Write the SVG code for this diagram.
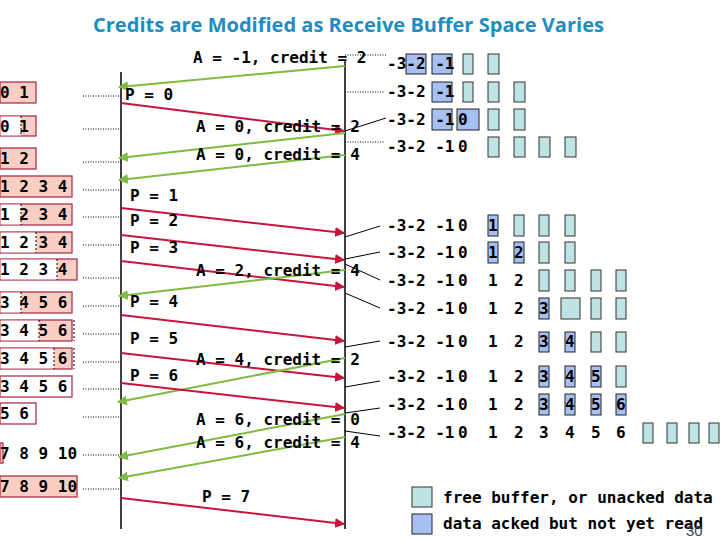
<svg xmlns="http://www.w3.org/2000/svg" width="720" height="540" viewBox="0 0 720 540">
<style>
.t{font-family:"DejaVu Sans Mono","Liberation Mono",monospace;font-weight:bold;font-size:16px;fill:#000}
.title{font-family:"Open Sans","Liberation Sans",sans-serif;font-weight:bold;font-size:20px;fill:#1F8DC0}
.pk{fill:#F9CFC4;stroke:#B0304E;stroke-width:1.3}
.wt{fill:#fff;stroke:#B0304E;stroke-width:1.3}
.split{stroke:#000;stroke-width:1;stroke-dasharray:2,2}
.blue{fill:#A6C0F4;stroke:#222;stroke-width:1}
.cyan{fill:#BFE2E2;stroke:#333;stroke-width:1}
.dot{stroke:#000;stroke-width:1;stroke-dasharray:1,1.5}
.thin{stroke:#000;stroke-width:1}
.ack{stroke:#7DBB42;stroke-width:2;fill:none;marker-end:url(#ag)}
.dat{stroke:#C8143C;stroke-width:2;fill:none;marker-end:url(#ar)}
.axis{stroke:#000;stroke-width:1.5}
</style>
<defs>
<marker id="ag" viewBox="0 0 10 10" refX="9" refY="5" markerWidth="5" markerHeight="5" orient="auto" markerUnits="strokeWidth"><path d="M0,0 L10,5 L0,10 z" fill="#7DBB42"/></marker>
<marker id="ar" viewBox="0 0 10 10" refX="9" refY="5" markerWidth="5" markerHeight="5" orient="auto" markerUnits="strokeWidth"><path d="M0,0 L10,5 L0,10 z" fill="#C8143C"/></marker>
</defs>
<rect width="720" height="540" fill="#fff"/>
<text class="title" x="93" y="32" textLength="511" lengthAdjust="spacingAndGlyphs">Credits are Modified as Receive Buffer Space Varies</text>

<g id="axes">
<line class="axis" x1="121" y1="72" x2="121" y2="529"/>
<line class="axis" x1="345" y1="60" x2="345" y2="529"/>
</g>

<g id="sender-buffers">
<g id="s1"><rect class="pk" x="0" y="82" width="36" height="21"/><text class="t" x="0" y="98">0 1</text></g>
<g id="s2"><rect class="pk" x="0" y="116" width="36" height="20"/><rect x="0.6" y="116.6" width="20.4" height="18.8" fill="#fff"/><line class="split" x1="21" y1="116" x2="21" y2="136"/><text class="t" x="0" y="132">0 1</text></g>
<g id="s3"><rect class="pk" x="0" y="148" width="36" height="21"/><text class="t" x="0" y="164">1 2</text></g>
<g id="s4"><rect class="pk" x="0" y="176" width="72" height="21"/><text class="t" x="0" y="192">1 2 3 4</text></g>
<g id="s5"><rect class="pk" x="0" y="204" width="72" height="21"/><rect x="0.6" y="204.6" width="20.4" height="19.8" fill="#fff"/><line class="split" x1="21" y1="204" x2="21" y2="225"/><text class="t" x="0" y="220">1 2 3 4</text></g>
<g id="s6"><rect class="pk" x="0" y="232" width="72" height="21"/><rect x="0.6" y="232.6" width="35.4" height="19.8" fill="#fff"/><line class="split" x1="36" y1="232" x2="36" y2="253"/><text class="t" x="0" y="248">1 2 3 4</text></g>
<g id="s7"><rect class="pk" x="0" y="259" width="77" height="21"/><rect x="0.6" y="259.6" width="56.4" height="19.8" fill="#fff"/><line class="split" x1="57" y1="259" x2="57" y2="280"/><text class="t" x="0" y="275">1 2 3 4</text></g>
<g id="s8"><rect class="pk" x="0" y="292" width="72" height="21"/><rect x="0.6" y="292.6" width="20.4" height="19.8" fill="#fff"/><line class="split" x1="21" y1="292" x2="21" y2="313"/><text class="t" x="0" y="308">3 4 5 6</text></g>
<g id="s9"><rect class="pk" x="0" y="320" width="72" height="21"/><rect x="0.6" y="320.6" width="38.4" height="19.8" fill="#fff"/><line class="split" x1="39" y1="320" x2="39" y2="341"/><line class="split" x1="74" y1="320" x2="74" y2="341"/><text class="t" x="0" y="336">3 4 5 6</text></g>
<g id="s10"><rect class="pk" x="0" y="348" width="72" height="21"/><rect x="0.6" y="348.6" width="53.4" height="19.8" fill="#fff"/><line class="split" x1="54" y1="348" x2="54" y2="369"/><line class="split" x1="74" y1="348" x2="74" y2="369"/><text class="t" x="0" y="364">3 4 5 6</text></g>
<g id="s11"><rect class="wt" x="0" y="376" width="72" height="21"/><text class="t" x="0" y="392">3 4 5 6</text></g>
<g id="s12"><rect class="wt" x="0" y="403" width="36" height="21"/><text class="t" x="0" y="419">5 6</text></g>
<g id="s13"><rect class="pk" x="0" y="443" width="3" height="20"/><text class="t" x="0" y="459">7 8 9 10</text></g>
<g id="s14"><rect class="pk" x="0" y="476" width="77" height="21"/><text class="t" x="0" y="492">7 8 9 10</text></g>
</g>

<g id="receiver-buffers">
<g id="r1"><rect class="blue" x="406" y="54" width="20" height="20"/><rect class="blue" x="432" y="54" width="20" height="20"/><rect class="cyan" x="463" y="54" width="10" height="20"/><rect class="cyan" x="488" y="54" width="11" height="20"/><text class="t" x="387" y="69">-3-2 -1</text></g>
<g id="r2"><rect class="blue" x="432" y="82" width="20" height="20"/><rect class="cyan" x="463" y="82" width="10" height="20"/><rect class="cyan" x="488" y="82" width="11" height="20"/><rect class="cyan" x="514" y="82" width="11" height="20"/><text class="t" x="387" y="97">-3-2 -1</text></g>
<g id="r3"><rect class="blue" x="432" y="109" width="20" height="21"/><rect class="blue" x="457" y="109" width="22" height="21"/><rect class="cyan" x="488" y="109" width="11" height="21"/><rect class="cyan" x="514" y="109" width="11" height="21"/><text class="t" x="387" y="125">-3-2 -1</text><text class="t" x="458" y="125">0</text></g>
<g id="r4"><rect class="cyan" x="488" y="137" width="11" height="20"/><rect class="cyan" x="514" y="137" width="11" height="20"/><rect class="cyan" x="539" y="137" width="11" height="20"/><rect class="cyan" x="565" y="137" width="11" height="20"/><text class="t" x="387" y="152">-3-2 -1</text><text class="t" x="458" y="152">0</text></g>
<g id="r5"><rect class="blue" x="488" y="215" width="10" height="21"/><rect class="cyan" x="514" y="215" width="10" height="21"/><rect class="cyan" x="539" y="215" width="10" height="21"/><rect class="cyan" x="565" y="215" width="10" height="21"/><text class="t" x="387" y="231">-3-2 -1</text><text class="t" x="458" y="231">0</text><text class="t" x="488" y="231">1</text></g>
<g id="r6"><rect class="blue" x="488" y="242" width="10" height="21"/><rect class="blue" x="514" y="242" width="10" height="21"/><rect class="cyan" x="539" y="242" width="10" height="21"/><rect class="cyan" x="565" y="242" width="10" height="21"/><text class="t" x="387" y="258">-3-2 -1</text><text class="t" x="458" y="258">0</text><text class="t" x="488" y="258">1</text><text class="t" x="514" y="258">2</text></g>
<g id="r7"><rect class="cyan" x="539" y="270" width="10" height="21"/><rect class="cyan" x="565" y="270" width="10" height="21"/><rect class="cyan" x="591" y="270" width="10" height="21"/><rect class="cyan" x="616" y="270" width="10" height="21"/><text class="t" x="387" y="286">-3-2 -1</text><text class="t" x="458" y="286">0</text><text class="t" x="488" y="286">1</text><text class="t" x="514" y="286">2</text></g>
<g id="r8"><rect class="blue" x="539" y="298" width="10" height="21"/><rect class="cyan" x="561" y="298" width="19" height="21"/><rect class="cyan" x="591" y="298" width="10" height="21"/><rect class="cyan" x="616" y="298" width="10" height="21"/><text class="t" x="387" y="314">-3-2 -1</text><text class="t" x="458" y="314">0</text><text class="t" x="488" y="314">1</text><text class="t" x="514" y="314">2</text><text class="t" x="539" y="314">3</text></g>
<g id="r9"><rect class="blue" x="539" y="332" width="10" height="20"/><rect class="blue" x="565" y="332" width="10" height="20"/><rect class="cyan" x="591" y="332" width="10" height="20"/><rect class="cyan" x="616" y="332" width="10" height="20"/><text class="t" x="387" y="347">-3-2 -1</text><text class="t" x="458" y="347">0</text><text class="t" x="488" y="347">1</text><text class="t" x="514" y="347">2</text><text class="t" x="539" y="347">3</text><text class="t" x="565" y="347">4</text></g>
<g id="r10"><rect class="blue" x="539" y="366" width="10" height="21"/><rect class="blue" x="565" y="366" width="10" height="21"/><rect class="blue" x="591" y="366" width="10" height="21"/><rect class="cyan" x="616" y="366" width="10" height="21"/><text class="t" x="387" y="382">-3-2 -1</text><text class="t" x="458" y="382">0</text><text class="t" x="488" y="382">1</text><text class="t" x="514" y="382">2</text><text class="t" x="539" y="382">3</text><text class="t" x="565" y="382">4</text><text class="t" x="591" y="382">5</text></g>
<g id="r11"><rect class="blue" x="539" y="394" width="10" height="21"/><rect class="blue" x="565" y="394" width="10" height="21"/><rect class="blue" x="591" y="394" width="10" height="21"/><rect class="blue" x="616" y="394" width="10" height="21"/><text class="t" x="387" y="410">-3-2 -1</text><text class="t" x="458" y="410">0</text><text class="t" x="488" y="410">1</text><text class="t" x="514" y="410">2</text><text class="t" x="539" y="410">3</text><text class="t" x="565" y="410">4</text><text class="t" x="591" y="410">5</text><text class="t" x="616" y="410">6</text></g>
<g id="r12"><rect class="cyan" x="643" y="423" width="10" height="20"/><rect class="cyan" x="667" y="423" width="10" height="20"/><rect class="cyan" x="689" y="423" width="10" height="20"/><rect class="cyan" x="709" y="423" width="10" height="20"/><text class="t" x="387" y="438">-3-2 -1</text><text class="t" x="458" y="438">0</text><text class="t" x="488" y="438">1</text><text class="t" x="514" y="438">2</text><text class="t" x="539" y="438">3</text><text class="t" x="565" y="438">4</text><text class="t" x="591" y="438">5</text><text class="t" x="616" y="438">6</text></g>
</g>

<g id="connectors">
<line class="dot" x1="83" y1="96" x2="121" y2="96"/>
<line class="dot" x1="83" y1="129" x2="121" y2="129"/>
<line class="dot" x1="83" y1="162" x2="121" y2="162"/>
<line class="dot" x1="83" y1="190" x2="121" y2="190"/>
<line class="dot" x1="83" y1="217" x2="121" y2="217"/>
<line class="dot" x1="83" y1="245" x2="121" y2="245"/>
<line class="dot" x1="83" y1="278" x2="121" y2="278"/>
<line class="dot" x1="83" y1="306" x2="121" y2="306"/>
<line class="dot" x1="83" y1="334" x2="121" y2="334"/>
<line class="dot" x1="83" y1="362" x2="121" y2="362"/>
<line class="dot" x1="83" y1="389" x2="121" y2="389"/>
<line class="dot" x1="83" y1="417" x2="121" y2="417"/>
<line class="dot" x1="83" y1="455" x2="121" y2="455"/>
<line class="dot" x1="83" y1="489" x2="121" y2="489"/>

<line class="dot" x1="345" y1="55" x2="387" y2="55"/>
<line class="dot" x1="345" y1="92" x2="385" y2="92"/>
<line class="thin" x1="345" y1="131" x2="386" y2="118"/>
<line class="dot" x1="345" y1="142" x2="385" y2="142"/>
<line class="thin" x1="345" y1="237" x2="380" y2="226"/>
<line class="thin" x1="345" y1="259" x2="380" y2="252"/>
<line class="thin" x1="345" y1="264" x2="380" y2="280"/>
<line class="thin" x1="345" y1="293" x2="380" y2="308"/>
<line class="thin" x1="345" y1="347" x2="380" y2="341"/>
<line class="thin" x1="345" y1="387" x2="380" y2="381"/>
<line class="thin" x1="345" y1="413" x2="380" y2="408"/>
<line class="thin" x1="345" y1="431" x2="380" y2="436"/>

<line class="ack" x1="345" y1="66" x2="119" y2="87"/>
<line class="dat" x1="121" y1="103" x2="344" y2="131"/>
<line class="ack" x1="345" y1="133" x2="119" y2="158"/>
<line class="ack" x1="345" y1="155" x2="119" y2="180"/>
<line class="dat" x1="121" y1="208" x2="344" y2="233"/>
<line class="dat" x1="121" y1="235" x2="344" y2="260"/>
<line class="dat" x1="121" y1="261" x2="344" y2="287"/>
<line class="ack" x1="345" y1="270" x2="119" y2="296"/>
<line class="dat" x1="121" y1="315" x2="344" y2="341"/>
<line class="dat" x1="121" y1="353" x2="344" y2="378"/>
<line class="ack" x1="345" y1="358" x2="118" y2="402"/>
<line class="dat" x1="121" y1="383" x2="344" y2="408"/>
<line class="ack" x1="345" y1="414" x2="119" y2="457"/>
<line class="ack" x1="345" y1="437" x2="119" y2="478"/>
<line class="dat" x1="121" y1="498" x2="344" y2="524"/>
</g>

<g id="labels">
<text class="t" x="193" y="63">A = -1, credit = 2</text>
<text class="t" x="125" y="100">P = 0</text>
<text class="t" x="196" y="132">A = 0, credit = 2</text>
<text class="t" x="196" y="160">A = 0, credit = 4</text>
<text class="t" x="130" y="201">P = 1</text>
<text class="t" x="130" y="226">P = 2</text>
<text class="t" x="130" y="253">P = 3</text>
<text class="t" x="196" y="276">A = 2, credit = 4</text>
<text class="t" x="130" y="307">P = 4</text>
<text class="t" x="130" y="344">P = 5</text>
<text class="t" x="196" y="365">A = 4, credit = 2</text>
<text class="t" x="130" y="381">P = 6</text>
<text class="t" x="196" y="425">A = 6, credit = 0</text>
<text class="t" x="196" y="448">A = 6, credit = 4</text>
<text class="t" x="202" y="502">P = 7</text>
</g>

<g id="legend">
<rect class="cyan" x="412" y="487" width="20" height="20"/>
<rect class="blue" x="412" y="514" width="20" height="20"/>
<text class="t" x="443" y="503">free buffer, or unacked data</text>
<text class="t" x="443" y="529">data acked but not yet read</text>
<text x="686" y="536" font-family="Liberation Sans, sans-serif" font-size="15" fill="#444">30</text>
</g>
</svg>
